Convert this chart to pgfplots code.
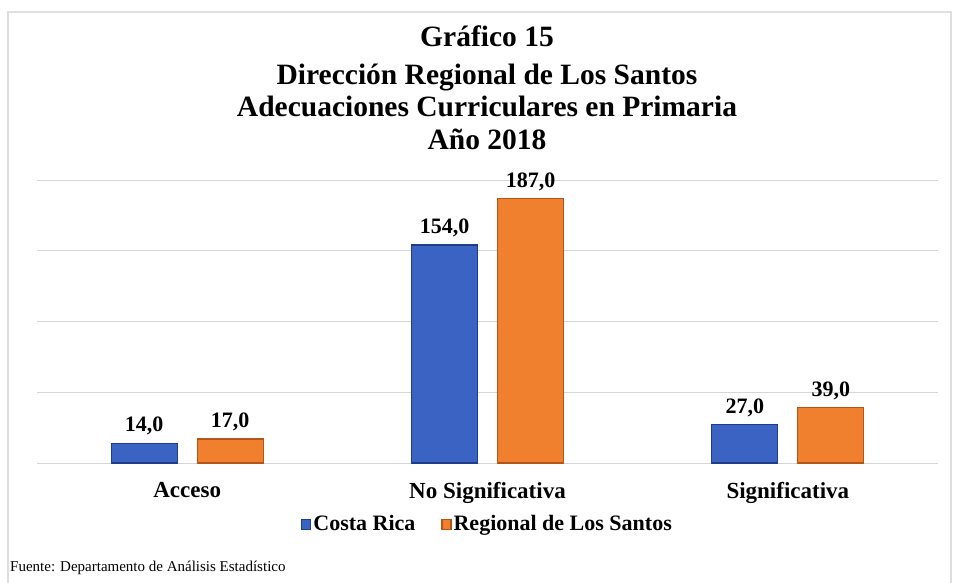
\documentclass[border=0pt]{standalone}
\usepackage{fontspec}
\setmainfont{Liberation Serif}
\usepackage{pgfplots}
\pgfplotsset{compat=1.18}

\definecolor{crblue}{HTML}{3A63C4}
\definecolor{crblueD}{HTML}{1F3D88}
\definecolor{lsorange}{HTML}{F07F2E}
\definecolor{lsorangeD}{HTML}{B0561A}
\definecolor{gridgray}{HTML}{D6D6D6}

\begin{document}
\begin{tikzpicture}[x=1pt,y=1pt]
\useasboundingbox (0,0) rectangle (954,582);
\draw[gray!25,line width=1.5pt] (8,-5) -- (8,570) -- (951,570) -- (951,-5);

\node[font=\bfseries\fontsize{29.5}{30}\selectfont,anchor=base] at (487,535) {Gráfico 15};
\node[font=\bfseries\fontsize{29.5}{30}\selectfont,anchor=base] at (487,497) {Dirección Regional de Los Santos};
\node[font=\bfseries\fontsize{29.5}{30}\selectfont,anchor=base] at (487,465) {Adecuaciones Curriculares en Primaria};
\node[font=\bfseries\fontsize{29.5}{30}\selectfont,anchor=base] at (487,432) {Año 2018};

\begin{axis}[
  at={(37pt,119pt)}, anchor=south west,
  scale only axis, width=901pt, height=283pt,
  ybar=20pt, bar width=66pt,
  xmin=-0.5, xmax=2.5, ymin=0, ymax=200,
  axis x line*=bottom, axis y line*=left,
  x axis line style={gridgray,line width=1pt},
  y axis line style={draw=none},
  ymajorgrids, grid style={gridgray,line width=1pt},
  ytick={50,100,150,200}, yticklabels={},
  xtick={0,1,2}, xticklabels={Acceso,No Significativa,Significativa},
  major tick length=0pt,
  tick label style={font=\bfseries\fontsize{23}{25}\selectfont},
  xticklabel style={yshift=-16pt},
  nodes near coords={\pgfmathprintnumber[fixed,fixed zerofill,precision=1,use comma,assume math mode=true]{\pgfplotspointmeta}},
  every node near coord/.append style={font=\bfseries\fontsize{22}{24}\selectfont,black,yshift=4pt},
  clip=false,
  legend style={at={(0.5,-0.17)},anchor=north,draw=none,legend columns=2,
    font=\bfseries\fontsize{22}{24}\selectfont,
    /tikz/every even column/.append style={column sep=24pt}},
  legend image code/.code={\fill[#1] (0pt,-6pt) rectangle (9pt,4pt);},
]
\addplot[fill=crblue,draw=crblueD,line width=1.2pt] coordinates {(0,14) (1,154) (2,27)};
\addlegendentry{Costa Rica}
\addplot[fill=lsorange,draw=lsorangeD,line width=1.2pt] coordinates {(0,17) (1,187) (2,39)};
\addlegendentry{Regional de Los Santos}
\end{axis}

\node[font=\fontsize{15}{17}\selectfont,anchor=base west,inner sep=0pt] at (10,11) {Fuente: Departamento de Análisis Estadístico};
\end{tikzpicture}
\end{document}
